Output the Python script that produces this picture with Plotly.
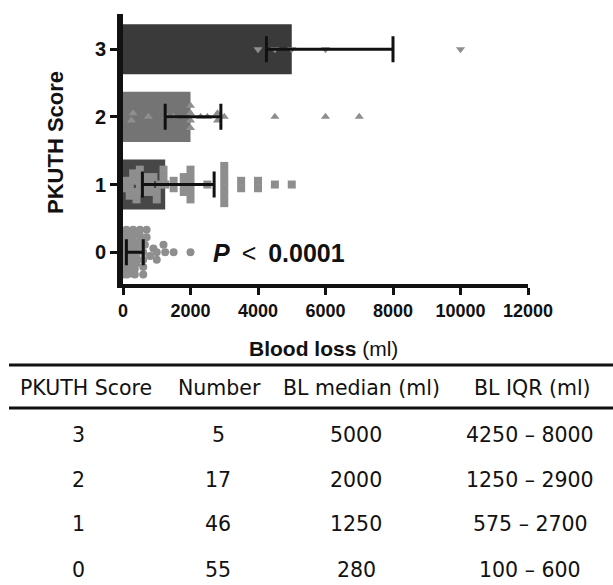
import plotly.graph_objects as go

# ---------------- data ----------------
scores = [0, 1, 2, 3]
numbers = [55, 46, 17, 5]
bl_median = [280, 1250, 2000, 5000]
bl_q1 = [100, 575, 1250, 4250]
bl_q3 = [600, 2700, 2900, 8000]

pts_0 = [20, 30, 40, 50, 50, 60, 70, 80, 80, 90, 100, 100, 100, 100,
         120, 150, 150, 180, 200, 200, 200, 220, 250, 250, 250, 280, 280, 280,
         300, 300, 300, 350, 350, 400, 400, 400, 450, 500, 500, 500, 600, 600,
         600, 600, 650, 700, 700, 800, 900, 1000, 1000, 1200, 1250, 1500, 2000]
pts_1 = [100, 100, 200, 200, 300, 300, 400, 400, 500, 500, 500, 600, 600, 700,
         800, 800, 900, 1000, 1000, 1100, 1200, 1200, 1250,
         1500, 1500, 1800, 1800, 1800, 2000, 2000, 2000, 2000, 2000, 2500,
         3000, 3000, 3000, 3000, 3000, 3000, 3500, 3500, 4000, 4000, 4500, 5000]
pts_2 = [250, 300, 750, 1300, 1500, 2000, 2000, 2000, 2000, 2300, 2500, 2800,
         2800, 3000, 4500, 6000, 7000]
pts_3 = [4000, 4500, 5000, 6000, 10000]

x_ticks = [0, 2000, 4000, 6000, 8000, 10000, 12000]
table_header = ["PKUTH Score", "Number", "BL median (ml)", "BL IQR (ml)"]

# ---------------- helpers ----------------
W, H = 613, 585
PX0, PX1, PY0, PY1 = 123, 528, 14, 284  # plot area in pixels


def px2x(px):
    return (px - PX0) / (PX1 - PX0)


def py2y(py):
    return (PY1 - py) / (PY1 - PY0)


def swarm(vals, cat, binw=220, step=0.11, maxspread=0.33):
    bins = {}
    for v in sorted(vals):
        bins.setdefault(int(round(v / binw)), []).append(v)
    xs, ys = [], []
    for b in sorted(bins):
        lst = bins[b]
        c = len(lst)
        s = min(step, 2 * maxspread / (c - 1)) if c > 1 else 0
        for i, v in enumerate(lst):
            xs.append(v)
            ys.append(cat + (i - (c - 1) / 2) * s)
    return xs, ys


bar_colors = ["#707070", "#474747", "#747474", "#3a3a3a"]
pt_color = "#8e8e8e"

fig = go.Figure()
fig.add_trace(go.Bar(
    x=bl_median, y=scores, orientation="h", width=0.74,
    marker=dict(color=bar_colors, line=dict(width=0)),
    showlegend=False, hoverinfo="skip"))

for pts, cat, sym in [(pts_0, 0, "circle"), (pts_1, 1, "square"),
                      (pts_2, 2, "triangle-up"), (pts_3, 3, "triangle-down")]:
    xs, ys = swarm(pts, cat)
    fig.add_trace(go.Scatter(
        x=xs, y=ys, mode="markers", cliponaxis=False,
        marker=dict(symbol=sym, size=8, color=pt_color, line=dict(width=0)),
        showlegend=False, hoverinfo="skip"))

fig.add_trace(go.Scatter(
    x=bl_median, y=scores, mode="markers",
    marker=dict(size=1, color="rgba(0,0,0,0)"),
    error_x=dict(type="data", symmetric=False,
                 array=[q3 - m for q3, m in zip(bl_q3, bl_median)],
                 arrayminus=[m - q1 for q1, m in zip(bl_q1, bl_median)],
                 color="#111111", thickness=3, width=13),
    showlegend=False, hoverinfo="skip"))

fig.update_layout(
    width=W, height=H,
    margin=dict(l=PX0, r=W - PX1, t=PY0, b=H - PY1),
    paper_bgcolor="white", plot_bgcolor="white",
    font=dict(family="Liberation Sans, Arial, sans-serif", color="#111111"),
    barmode="overlay",
    xaxis=dict(range=[0, 12000], tickvals=x_ticks,
               ticktext=[f"<b>{t}</b>" for t in x_ticks],
               ticks="outside", ticklen=7, tickwidth=3, tickcolor="#111111",
               showline=True, linewidth=4, linecolor="#111111",
               showgrid=False, zeroline=False,
               tickfont=dict(size=18, family="Liberation Sans, Arial")),
    yaxis=dict(range=[-0.47, 3.52], tickvals=scores,
               ticktext=[f"<b>{s}</b>" for s in scores],
               ticks="outside", ticklen=7, tickwidth=3, tickcolor="#111111",
               showline=True, linewidth=6, linecolor="#111111",
               showgrid=False, zeroline=False,
               tickfont=dict(size=20, family="Liberation Sans, Arial")),
)

annos = []
# axis titles
annos.append(dict(x=px2x(55), y=py2y(143), xref="paper", yref="paper",
                  text="<b>PKUTH Score</b>", textangle=-90, showarrow=False,
                  font=dict(size=22, family="Liberation Sans, Arial"),
                  xanchor="center", yanchor="middle"))
annos.append(dict(x=px2x(323), y=py2y(348), xref="paper", yref="paper",
                  text="<b>Blood loss</b> (ml)", showarrow=False,
                  font=dict(size=21, family="Liberation Sans, Arial"),
                  xanchor="center", yanchor="middle"))
# P value
annos.append(dict(x=px2x(211), y=py2y(253), xref="paper", yref="paper",
                  text="<b><i>P</i></b>\u2009 &lt; \u2009<b>0.0001</b>", showarrow=False,
                  font=dict(size=25, family="Liberation Sans, Arial"),
                  xanchor="left", yanchor="middle"))

# table
col_x = [86, 219, 361, 532]
row_col_x = [78, 218, 356, 530]
tfont = dict(size=20.5, family="DejaVu Sans, sans-serif", color="#111111")
for cx, txt in zip(col_x, table_header):
    annos.append(dict(x=px2x(cx), y=py2y(388), xref="paper", yref="paper",
                      text=txt, showarrow=False, font=tfont,
                      xanchor="center", yanchor="middle"))
row_y = [570, 524, 480, 435]  # for scores 0,1,2,3
for i, s in enumerate(scores):
    cells = [str(s), str(numbers[i]), str(bl_median[i]),
             f"{bl_q1[i]} \u2013 {bl_q3[i]}"]
    for cx, txt in zip(row_col_x, cells):
        annos.append(dict(x=px2x(cx), y=py2y(row_y[i]), xref="paper", yref="paper",
                          text=txt, showarrow=False, font=tfont,
                          xanchor="center", yanchor="middle"))
fig.update_layout(annotations=annos)

shapes = []
for ly in [365, 408]:
    shapes.append(dict(type="line", xref="paper", yref="paper",
                       x0=px2x(9), x1=px2x(613), y0=py2y(ly), y1=py2y(ly),
                       line=dict(color="#111111", width=3)))
fig.update_layout(shapes=shapes)

fig.write_html("out.html")
